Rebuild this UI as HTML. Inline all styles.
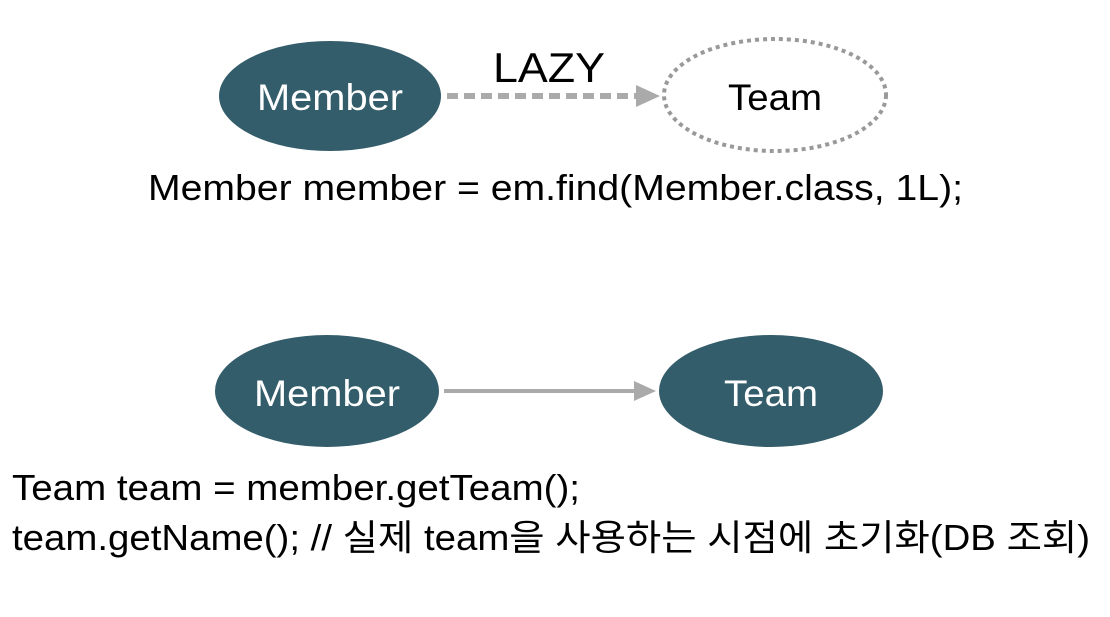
<!DOCTYPE html>
<html><head><meta charset="utf-8"><style>
html,body{margin:0;padding:0;background:#fff;}
svg{display:block;}
text{font-family:"Liberation Sans","Noto Sans CJK KR",sans-serif;}
</style></head><body>
<svg width="1110" height="617" viewBox="0 0 1110 617" xmlns="http://www.w3.org/2000/svg">
<ellipse cx="330" cy="96" rx="111" ry="55" fill="#335d6a"/>
<text x="330" y="110" font-size="37" fill="#fff" text-anchor="middle" textLength="146" lengthAdjust="spacingAndGlyphs">Member</text>
<line x1="447" y1="96" x2="638" y2="96" stroke="#aaa" stroke-width="6" stroke-dasharray="11,6"/>
<polygon points="636,85 660,96 636,107" fill="#aaa"/>
<text x="549" y="82" font-size="42" fill="#000" text-anchor="middle" textLength="112" lengthAdjust="spacingAndGlyphs">LAZY</text>
<ellipse cx="775" cy="95" rx="111" ry="56" fill="none" stroke="#999" stroke-width="4" stroke-dasharray="4,4"/>
<text x="775" y="110" font-size="37" fill="#000" text-anchor="middle" textLength="94" lengthAdjust="spacingAndGlyphs">Team</text>
<text x="148" y="200" font-size="36" fill="#000" textLength="815" lengthAdjust="spacingAndGlyphs">Member member = em.find(Member.class, 1L);</text>
<ellipse cx="327" cy="391" rx="112" ry="56" fill="#335d6a"/>
<text x="327" y="406" font-size="37" fill="#fff" text-anchor="middle" textLength="146" lengthAdjust="spacingAndGlyphs">Member</text>
<line x1="444" y1="391" x2="638" y2="391" stroke="#aaa" stroke-width="4"/>
<polygon points="634,381 656,391 634,401" fill="#aaa"/>
<ellipse cx="771" cy="391" rx="112" ry="56" fill="#335d6a"/>
<text x="771" y="406" font-size="37" fill="#fff" text-anchor="middle" textLength="94" lengthAdjust="spacingAndGlyphs">Team</text>
<text x="12" y="500" font-size="36" fill="#000" textLength="568" lengthAdjust="spacingAndGlyphs">Team team = member.getTeam();</text>
<text x="12" y="550" font-size="36" fill="#000" textLength="1078" lengthAdjust="spacingAndGlyphs">team.getName(); // 실제 team을 사용하는 시점에 초기화(DB 조회)</text>
</svg>
</body></html>
